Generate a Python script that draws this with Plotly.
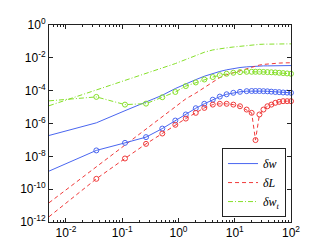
import plotly.graph_objects as go

# x grid (shared by all series)
x = [0.005, 0.0347, 0.112, 0.265, 0.516, 0.879, 1.35, 2.03, 2.88, 4.07, 5.43, 7.18,
     9.44, 12.4, 16.3, 20.0, 23.4, 27.5, 32.4, 38.1, 44.7, 52.6, 61.7, 72.4, 85.3, 100.0]

# log10 values
dw_hi = [-6.73, -5.96, -5.22, -4.70, -4.28, -3.87, -3.58, -3.33, -3.12, -2.95, -2.83, -2.73,
         -2.65, -2.59, -2.55, -2.52, -2.51, -2.50, -2.49, -2.49, -2.48, -2.48, -2.48, -2.47, -2.47, -2.47]
dw_lo = [-8.90, -7.64, -7.18, -6.83, -6.31, -5.82, -5.45, -5.07, -4.80, -4.55, -4.36, -4.22,
         -4.13, -4.07, -4.03, -4.02, -4.02, -4.02, -4.03, -4.04, -4.06, -4.08, -4.09, -4.11, -4.12, -4.13]
dL_hi = [-10.83, -8.63, -7.29, -6.31, -5.55, -4.95, -4.50, -4.15, -3.82, -3.47, -3.20, -3.03,
         -2.90, -2.78, -2.67, -2.58, -2.50, -2.44, -2.40, -2.37, -2.35, -2.33, -2.32, -2.31, -2.31, -2.30]
dL_lo = [-11.68, -9.37, -8.13, -7.24, -6.61, -6.08, -5.70, -5.35, -5.05, -4.85, -4.80, -4.80,
         -4.85, -4.95, -5.15, -5.35, -7.01, -5.45, -5.15, -4.95, -4.85, -4.74, -4.68, -4.64, -4.64, -4.64]
dwt_hi = [-4.92, -3.96, -3.38, -2.96, -2.63, -2.35, -2.10, -1.87, -1.66, -1.52, -1.44, -1.39,
          -1.34, -1.29, -1.25, -1.22, -1.20, -1.18, -1.17, -1.16, -1.16, -1.16, -1.15, -1.15, -1.15, -1.15]
dwt_lo = [-4.62, -4.38, -4.85, -4.79, -4.40, -4.08, -3.72, -3.50, -3.32, -3.17, -3.06, -2.97,
          -2.91, -2.87, -2.85, -2.85, -2.85, -2.85, -2.86, -2.87, -2.88, -2.89, -2.91, -2.93, -2.95, -2.97]

x_ticks = [1e-2, 1e-1, 1e0, 1e1, 1e2]
x_ticktext = ["10<sup>-2</sup>", "10<sup>-1</sup>", "10<sup>0</sup>", "10<sup>1</sup>", "10<sup>2</sup>"]
y_ticks = [1e0, 1e-2, 1e-4, 1e-6, 1e-8, 1e-10, 1e-12]
y_ticktext = ["10<sup>0</sup>", "10<sup>-2</sup>", "10<sup>-4</sup>", "10<sup>-6</sup>",
              "10<sup>-8</sup>", "10<sup>-10</sup>", "10<sup>-12</sup>"]

BLUE = "#4a66f0"
RED = "#f03a3a"
GREEN = "#86e02a"

def p(v):
    return [10 ** a for a in v]

fig = go.Figure()
fig.add_trace(go.Scatter(x=x, y=p(dw_hi), mode="lines", line=dict(color=BLUE, width=1),
                         name="<i>δw</i>", cliponaxis=False))
fig.add_trace(go.Scatter(x=x, y=p(dL_hi), mode="lines", line=dict(color=RED, width=1, dash="4px,3px"),
                         name="<i>δL</i>", cliponaxis=False))
fig.add_trace(go.Scatter(x=x, y=p(dwt_hi), mode="lines", line=dict(color=GREEN, width=1, dash="5px,2px,1px,2px"),
                         name="<i>δw<sub>t</sub></i>", cliponaxis=False))
fig.add_trace(go.Scatter(x=x, y=p(dw_lo), mode="lines+markers", line=dict(color=BLUE, width=1),
                         marker=dict(symbol="circle-open", size=5, color=BLUE, line=dict(width=1)),
                         showlegend=False, cliponaxis=False))
fig.add_trace(go.Scatter(x=x, y=p(dL_lo), mode="lines+markers", line=dict(color=RED, width=1, dash="4px,3px"),
                         marker=dict(symbol="circle-open", size=5, color=RED, line=dict(width=1)),
                         showlegend=False, cliponaxis=False))
fig.add_trace(go.Scatter(x=x, y=p(dwt_lo), mode="lines+markers", line=dict(color=GREEN, width=1, dash="5px,2px,1px,2px"),
                         marker=dict(symbol="circle-open", size=5, color=GREEN, line=dict(width=1)),
                         showlegend=False, cliponaxis=False))

minor_x = [m * 10 ** e for e in range(-3, 2) for m in range(2, 10)]
minor_x = [v for v in minor_x if 0.005 <= v <= 100]

axis_common = dict(showline=True, linecolor="#222", linewidth=1, mirror="ticks",
                   ticks="inside", tickcolor="#222", ticklen=4, showgrid=False, zeroline=False,
                   automargin=False,
                   tickfont=dict(family="Liberation Sans, Arial", size=12, color="#000"))

fig.update_xaxes(type="log", range=[-2.301, 2.0], tickmode="array", tickvals=x_ticks,
                 ticktext=x_ticktext,
                 minor=dict(tickmode="array", tickvals=minor_x, ticks="inside", ticklen=2,
                            tickcolor="#222", showgrid=False),
                 **axis_common)
fig.update_yaxes(type="log", range=[-12, 0], tickmode="array", tickvals=y_ticks,
                 ticktext=y_ticktext, **axis_common)

fig.update_layout(
    width=312, height=242,
    margin=dict(l=41, r=29, t=17, b=28),
    paper_bgcolor="white", plot_bgcolor="white",
    showlegend=True,
    legend=dict(x=0.715, y=0.025, xanchor="left", yanchor="bottom",
                bgcolor="white", bordercolor="#222", borderwidth=1,
                font=dict(family="Liberation Serif, Times New Roman", size=12, color="#000"),
                tracegroupgap=0, itemwidth=30),
)

fig.write_html("out.html")
